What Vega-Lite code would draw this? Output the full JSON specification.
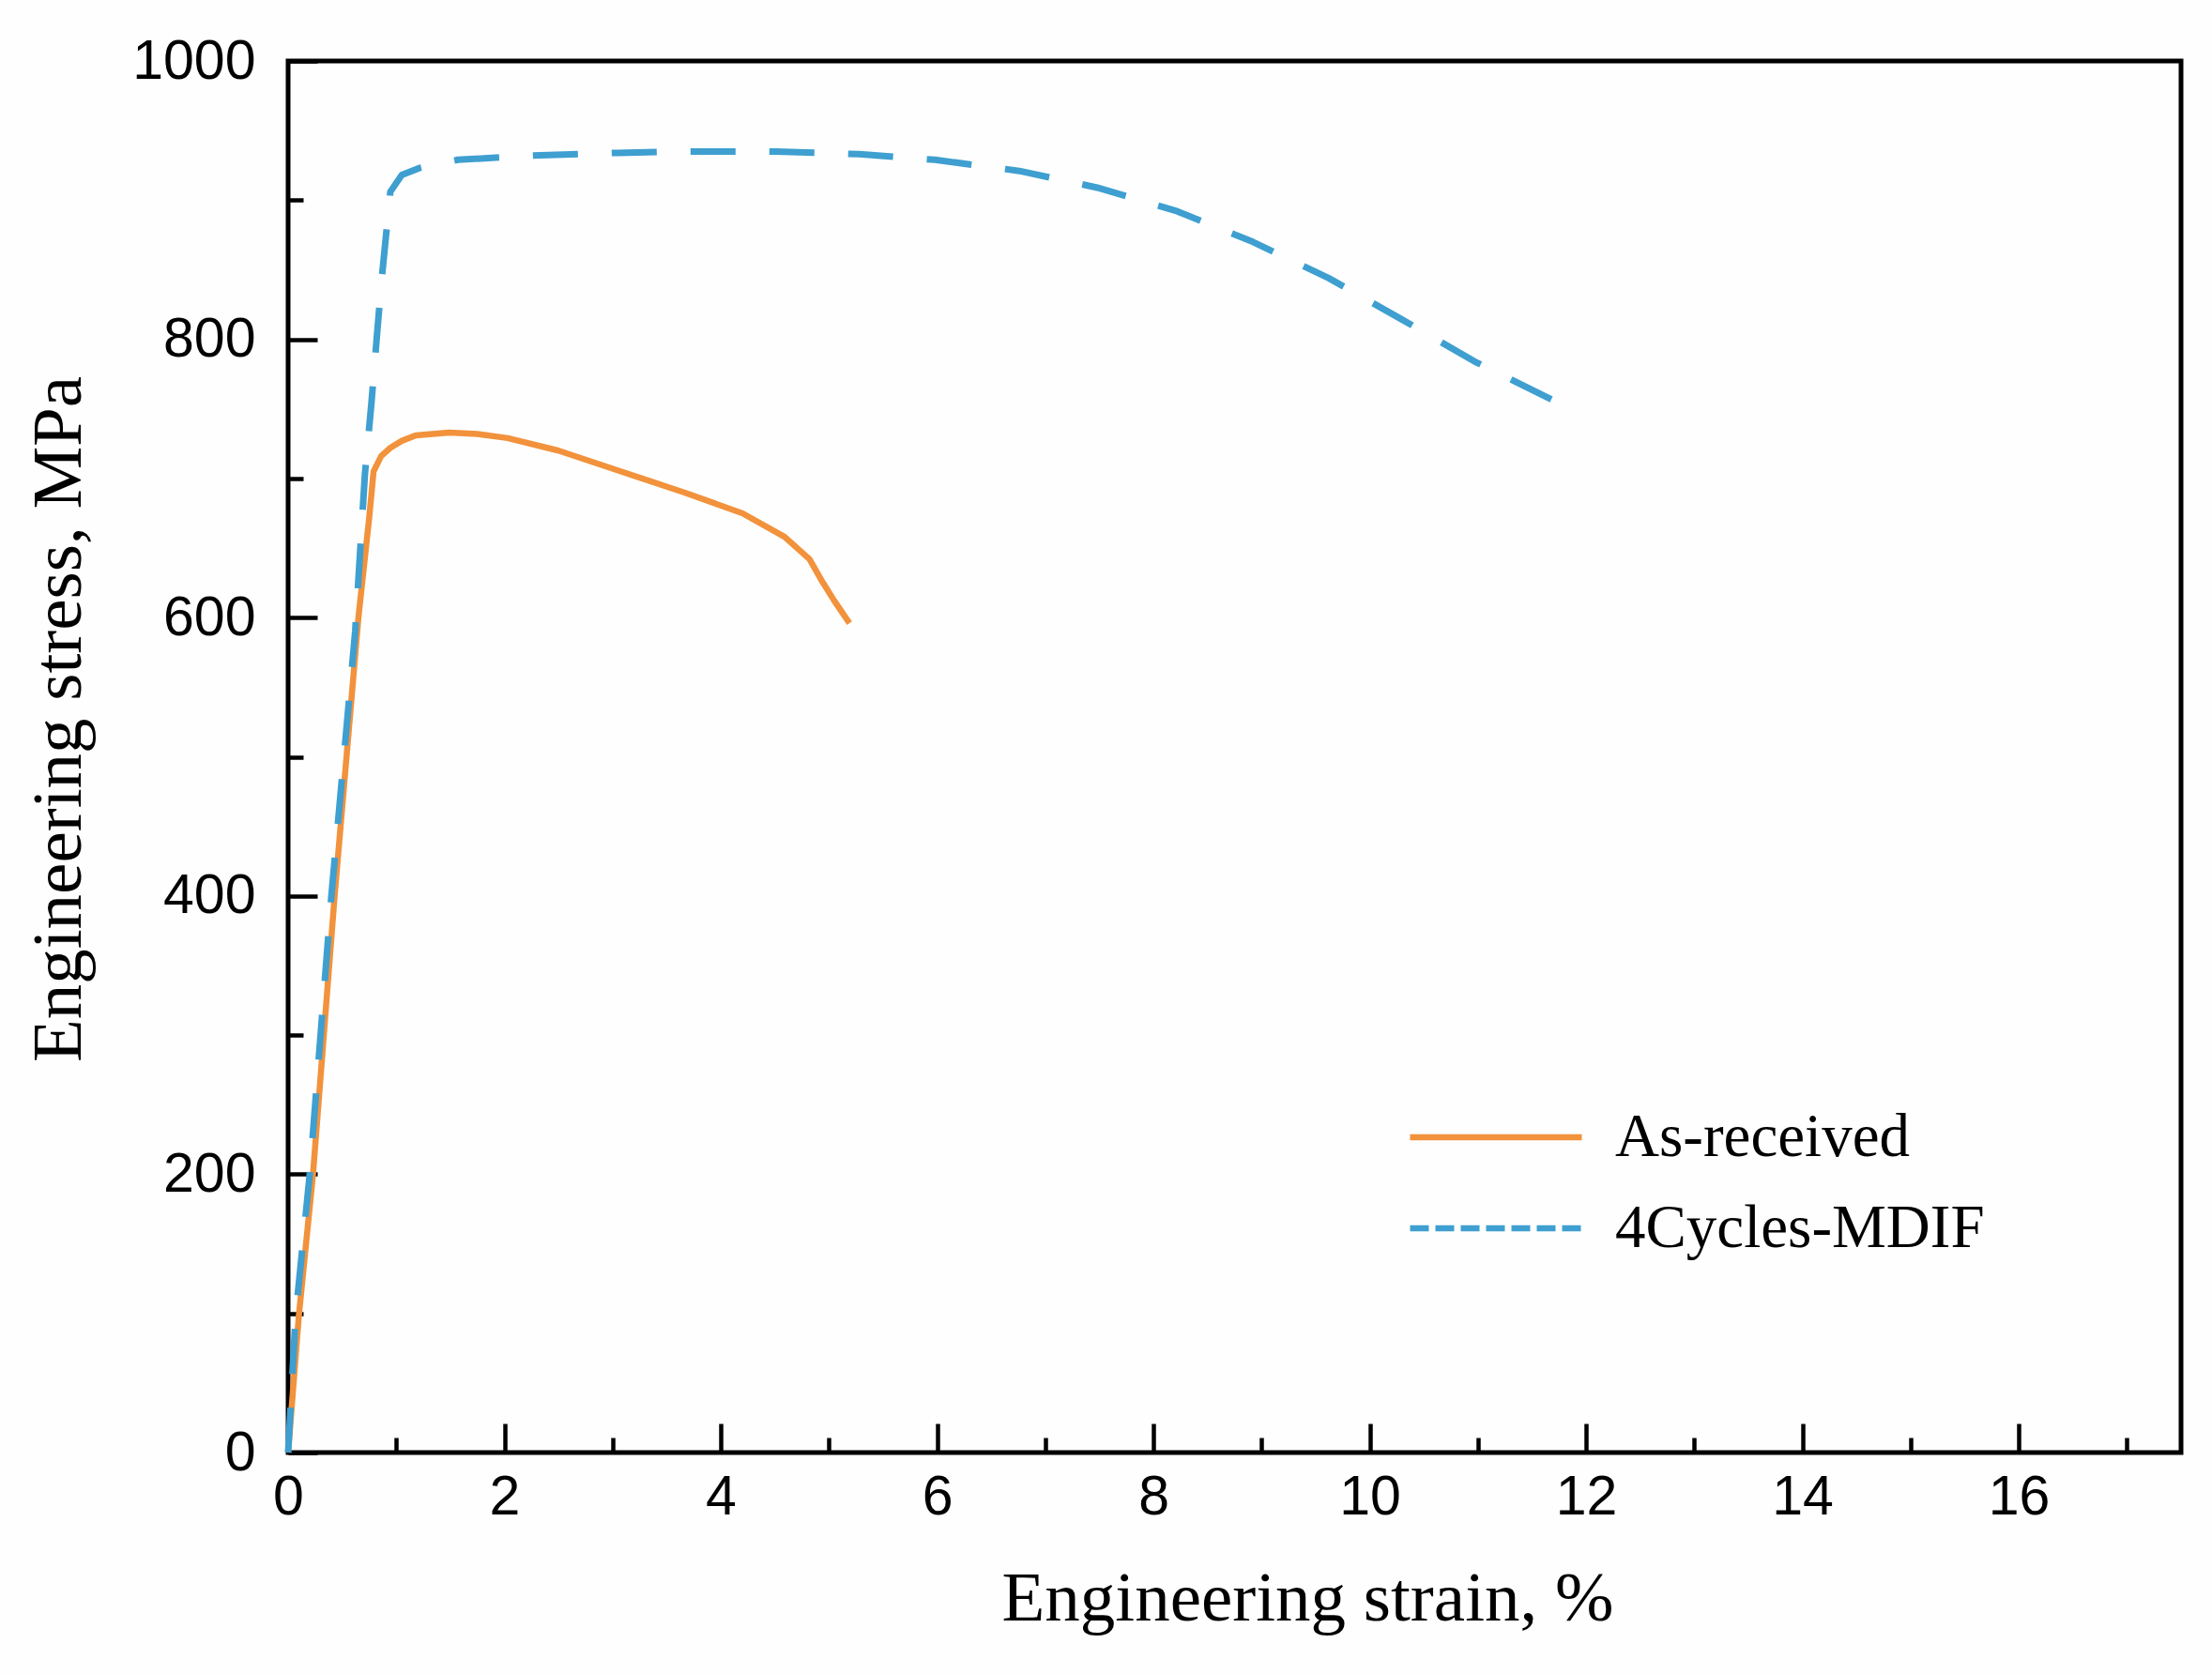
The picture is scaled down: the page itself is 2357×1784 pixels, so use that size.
{
  "$schema": "https://vega.github.io/schema/vega-lite/v6.json",
  "description": "Engineering stress-strain curves, as-received vs 4 cycles MDIF",
  "autosize": {"type": "none"},
  "padding": {"left": 307, "top": 65, "right": 33, "bottom": 236},
  "width": 2017,
  "height": 1483,
  "background": "#fefefe",
  "config": {
    "view": {"stroke": "black", "strokeWidth": 5},
    "axis": {
      "domain": false,
      "grid": false,
      "tickColor": "black",
      "tickWidth": 4.5,
      "labelFont": "Liberation Sans",
      "labelFontSize": 59,
      "labelColor": "black",
      "labelFlush": false,
      "titleFont": "Liberation Serif",
      "titleFontSize": 75,
      "titleFontWeight": "normal",
      "titleColor": "black"
    }
  },
  "data": {
    "values": [
      {"series": "As-received", "strain": 0, "stress": 0},
      {"series": "As-received", "strain": 0.1, "stress": 99},
      {"series": "As-received", "strain": 0.23, "stress": 200},
      {"series": "As-received", "strain": 0.43, "stress": 400},
      {"series": "As-received", "strain": 0.65, "stress": 600},
      {"series": "As-received", "strain": 0.75, "stress": 672},
      {"series": "As-received", "strain": 0.79, "stress": 705},
      {"series": "As-received", "strain": 0.86, "stress": 716},
      {"series": "As-received", "strain": 0.945, "stress": 722},
      {"series": "As-received", "strain": 1.05, "stress": 727},
      {"series": "As-received", "strain": 1.18, "stress": 731},
      {"series": "As-received", "strain": 1.49, "stress": 733},
      {"series": "As-received", "strain": 1.75, "stress": 732},
      {"series": "As-received", "strain": 2.03, "stress": 729},
      {"series": "As-received", "strain": 2.5, "stress": 720},
      {"series": "As-received", "strain": 3.04, "stress": 706},
      {"series": "As-received", "strain": 3.66, "stress": 690},
      {"series": "As-received", "strain": 4.2, "stress": 675},
      {"series": "As-received", "strain": 4.59, "stress": 658},
      {"series": "As-received", "strain": 4.82, "stress": 642},
      {"series": "As-received", "strain": 4.93, "stress": 627},
      {"series": "As-received", "strain": 5.05, "stress": 612},
      {"series": "As-received", "strain": 5.19, "stress": 596},
      {"series": "4Cycles-MDIF", "strain": 0, "stress": 0},
      {"series": "4Cycles-MDIF", "strain": 0.07, "stress": 99},
      {"series": "4Cycles-MDIF", "strain": 0.2, "stress": 200},
      {"series": "4Cycles-MDIF", "strain": 0.4, "stress": 400},
      {"series": "4Cycles-MDIF", "strain": 0.62, "stress": 590},
      {"series": "4Cycles-MDIF", "strain": 0.71, "stress": 703},
      {"series": "4Cycles-MDIF", "strain": 0.77, "stress": 754},
      {"series": "4Cycles-MDIF", "strain": 0.83, "stress": 811},
      {"series": "4Cycles-MDIF", "strain": 0.87, "stress": 847},
      {"series": "4Cycles-MDIF", "strain": 0.945, "stress": 906},
      {"series": "4Cycles-MDIF", "strain": 1.05, "stress": 918},
      {"series": "4Cycles-MDIF", "strain": 1.21, "stress": 923},
      {"series": "4Cycles-MDIF", "strain": 1.57, "stress": 929},
      {"series": "4Cycles-MDIF", "strain": 2.26, "stress": 932},
      {"series": "4Cycles-MDIF", "strain": 3.04, "stress": 934},
      {"series": "4Cycles-MDIF", "strain": 3.73, "stress": 935},
      {"series": "4Cycles-MDIF", "strain": 4.51, "stress": 935},
      {"series": "4Cycles-MDIF", "strain": 5.28, "stress": 933},
      {"series": "4Cycles-MDIF", "strain": 5.98, "stress": 929},
      {"series": "4Cycles-MDIF", "strain": 6.76, "stress": 921},
      {"series": "4Cycles-MDIF", "strain": 7.48, "stress": 909},
      {"series": "4Cycles-MDIF", "strain": 8.22, "stress": 892},
      {"series": "4Cycles-MDIF", "strain": 8.92, "stress": 870},
      {"series": "4Cycles-MDIF", "strain": 9.62, "stress": 844},
      {"series": "4Cycles-MDIF", "strain": 10.28, "stress": 815},
      {"series": "4Cycles-MDIF", "strain": 10.97, "stress": 784},
      {"series": "4Cycles-MDIF", "strain": 11.75, "stress": 754}
    ]
  },
  "encoding": {
    "x": {
      "field": "strain",
      "type": "quantitative",
      "scale": {"domain": [0, 17.5], "nice": false, "zero": false},
      "axis": {
        "title": "Engineering strain, %",
        "values": [0, 1, 2, 3, 4, 5, 6, 7, 8, 9, 10, 11, 12, 13, 14, 15, 16, 17],
        "labelExpr": "datum.value % 2 === 0 ? datum.label : ''",
        "tickSize": {"condition": {"test": "datum.value % 2 === 0", "value": -31}, "value": -16},
        "labelPadding": 49,
        "labelBaseline": "top",
        "titleX": 1086,
        "titleY": 178,
        "titleBaseline": "alphabetic",
        "titleAlign": "center"
      }
    },
    "y": {
      "field": "stress",
      "type": "quantitative",
      "scale": {"domain": [0, 1000], "nice": false},
      "axis": {
        "title": "Engineering stress, MPa",
        "values": [0, 100, 200, 300, 400, 500, 600, 700, 800, 900, 1000],
        "format": "d",
        "labelExpr": "datum.value % 200 === 0 ? datum.label : ''",
        "tickSize": {"condition": {"test": "datum.value % 200 === 0", "value": -31}, "value": -16},
        "labelPadding": 66,
        "labelBaseline": "middle",
        "titleX": -222,
        "titleY": 701,
        "titleAngle": -90,
        "titleBaseline": "alphabetic",
        "titleAlign": "center"
      }
    },
    "color": {
      "field": "series",
      "type": "nominal",
      "sort": ["As-received", "4Cycles-MDIF"],
      "scale": {"domain": ["As-received", "4Cycles-MDIF"], "range": ["#F2923C", "#3E9FD0"]},
      "legend": {
        "title": null,
        "orient": "none",
        "legendX": 1253,
        "legendY": 1113,
        "symbolType": "M-3,0H3",
        "symbolSize": 3721,
        "symbolStrokeWidth": 6.5,
        "labelFont": "Liberation Serif",
        "labelFontSize": 65,
        "labelColor": "black",
        "labelOffset": 93,
        "labelLimit": 0,
        "rowPadding": 30,
        "encode": {
          "symbols": {
            "update": {
              "strokeDash": {"signal": "datum.value === '4Cycles-MDIF' ? [20, 7] : [1, 0]"}
            }
          }
        }
      }
    }
  },
  "layer": [
    {
      "transform": [{"filter": "datum.series === 'As-received'"}],
      "mark": {"type": "line", "strokeWidth": 6.5, "strokeCap": "butt", "strokeJoin": "round"}
    },
    {
      "transform": [{"filter": "datum.series === '4Cycles-MDIF'"}],
      "mark": {"type": "line", "strokeWidth": 7, "strokeCap": "butt", "strokeJoin": "round", "strokeDash": [48, 36]}
    }
  ]
}
